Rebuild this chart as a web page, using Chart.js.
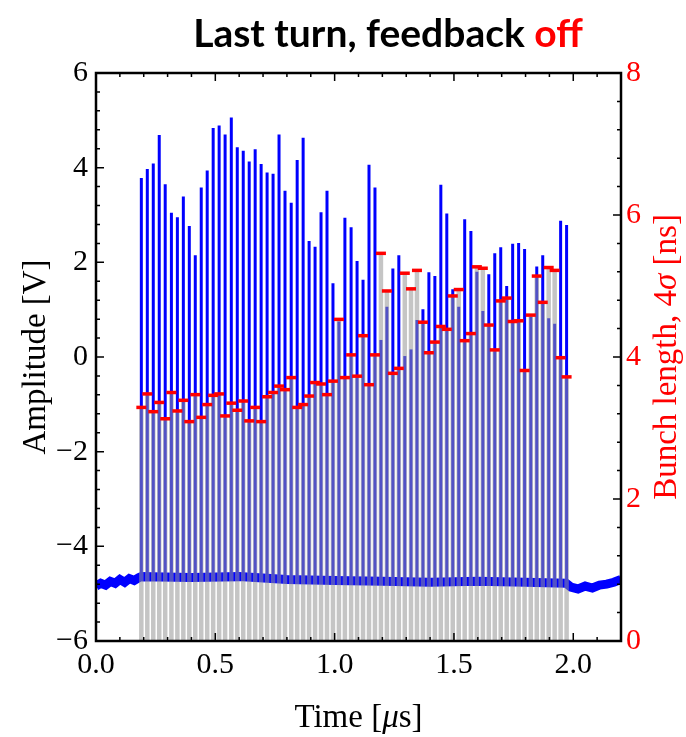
<!DOCTYPE html>
<html>
<head>
<meta charset="utf-8">
<script src="https://cdn.jsdelivr.net/npm/chart.js@4.4.1/dist/chart.umd.min.js"></script>
<style>
  html, body { margin: 0; padding: 0; background: #ffffff; }
  #wrap { width: 686px; height: 737px; }
</style>
</head>
<body>
<div id="wrap"><canvas id="bunchChart" width="686" height="737"></canvas></div>
<script>
// Bunch arrival times [us]
const bunchTimes = [0.190, 0.215, 0.240, 0.265, 0.290, 0.316, 0.341, 0.366, 0.391, 0.416,
    0.441, 0.466, 0.491, 0.516, 0.541, 0.567, 0.592, 0.617, 0.642, 0.667,
    0.692, 0.717, 0.742, 0.767, 0.792, 0.818, 0.843, 0.868, 0.893, 0.918,
    0.943, 0.968, 0.993, 1.018, 1.043, 1.069, 1.094, 1.119, 1.144, 1.169,
    1.194, 1.219, 1.244, 1.269, 1.294, 1.320, 1.345, 1.370, 1.395, 1.420,
    1.445, 1.470, 1.495, 1.520, 1.545, 1.571, 1.596, 1.621, 1.646, 1.671,
    1.696, 1.721, 1.746, 1.771, 1.796, 1.822, 1.847, 1.872, 1.897, 1.922,
    1.947, 1.972];

// Peak amplitude of each bunch [V]
const peakAmplitude = [3.78, 3.97, 4.09, 4.69, 3.65, 3.05, 2.95, 3.39, 2.77, 2.15,
    3.58, 3.94, 4.84, 4.89, 4.70, 5.06, 4.43, 4.36, 4.13, 4.39,
    4.08, 3.90, 3.87, 4.70, 3.51, 3.26, 4.16, 4.63, 2.45, 2.33,
    3.06, 3.51, 1.56, 0.75, 2.94, 2.74, 2.03, 1.63, 4.06, 3.58,
    0.36, 1.06, 1.87, 2.15, 0.02, 0.16, 0.78, 1.01, 1.79, 1.71,
    3.64, 3.03, 1.43, 1.06, 2.91, 2.66, 1.80, 0.97, 1.75, 2.19,
    2.32, 1.50, 2.39, 2.41, 2.28, 0.85, 1.91, 2.15, 0.82, 0.70,
    2.88, 2.79];

// Bunch length, 4 sigma [ns]
const bunchLength = [3.29, 3.48, 3.23, 3.36, 3.13, 3.50, 3.24, 3.39, 3.09, 3.47,
    3.15, 3.33, 3.46, 3.48, 3.17, 3.35, 3.25, 3.38, 3.10, 3.29,
    3.09, 3.44, 3.50, 3.59, 3.54, 3.71, 3.29, 3.33, 3.45, 3.64,
    3.62, 3.47, 3.66, 4.53, 3.71, 4.03, 3.73, 4.30, 3.61, 4.03,
    5.46, 4.93, 3.77, 3.84, 5.18, 4.96, 5.22, 4.49, 4.06, 4.21,
    4.43, 4.39, 4.86, 4.95, 4.23, 4.33, 5.27, 5.25, 4.45, 4.10,
    4.79, 4.83, 4.50, 4.51, 3.81, 4.59, 5.14, 4.77, 5.26, 5.22,
    3.99, 3.72];

// Scope baseline (noise level) read at a few times
const baselineTimes = [0.00, 0.02, 0.04, 0.06, 0.08, 0.10, 0.12, 0.14, 0.16, 0.18,
    0.19, 0.40, 0.60, 0.80, 1.00, 1.20, 1.40, 1.60, 1.80, 1.97,
    1.99, 2.02, 2.05, 2.08, 2.11, 2.14, 2.17, 2.20];
const baselineLevel = [-4.84, -4.78, -4.82, -4.74, -4.78, -4.70, -4.76, -4.68, -4.72, -4.66,
    -4.64, -4.66, -4.64, -4.70, -4.72, -4.74, -4.76, -4.74, -4.76, -4.78,
    -4.86, -4.90, -4.84, -4.88, -4.82, -4.80, -4.76, -4.70];
const spikeFoot = -4.7;

// Tick labels
const timeTicks = [0.0, 0.5, 1.0, 1.5, 2.0];
const ampTicks = [-6, -4, -2, 0, 2, 4, 6];
const lengthTicks = [0, 2, 4, 6, 8];

const serif = "'Liberation Serif', 'DejaVu Serif', serif";

function fmtSigned(v) {
    return v < 0 ? '\u2212' + Math.abs(v) : String(v);
}

// Draw a line of text made of differently styled pieces, centred at (cx, cy)
function drawRuns(ctx, runs, cx, cy, rot, baseline) {
    ctx.save();
    ctx.translate(cx, cy);
    ctx.rotate(rot);
    ctx.textAlign = 'left';
    ctx.textBaseline = baseline;
    let total = 0;
    runs.forEach(r => {
        ctx.font = r.font;
        r.w = ctx.measureText(r.text).width;
        total += r.w;
    });
    let x = -total / 2;
    runs.forEach(r => {
        ctx.font = r.font;
        ctx.fillStyle = r.color;
        ctx.fillText(r.text, x, 0);
        x += r.w;
    });
    ctx.restore();
}

// Mathematica-like frame with inward ticks, plus titles
const framePlugin = {
    id: 'frame',
    afterDraw(chart) {
        const ctx = chart.ctx;
        const a = chart.chartArea;
        const xs = chart.scales.x, ys = chart.scales.y, ys2 = chart.scales.y2;
        ctx.save();
        ctx.strokeStyle = '#000';
        ctx.lineWidth = 1.5;
        ctx.beginPath();
        // x ticks, bottom and top
        for (let i = 0; i <= 22; i++) {
            const v = i / 10;
            const len = (i % 5 === 0) ? 8 : 4;
            const px = xs.getPixelForValue(v);
            ctx.moveTo(px, a.bottom); ctx.lineTo(px, a.bottom - len);
            ctx.moveTo(px, a.top); ctx.lineTo(px, a.top + len);
        }
        // left ticks
        for (let i = 0; i <= 30; i++) {
            const v = -6 + i * 0.4;
            const len = (i % 5 === 0) ? 8 : 4;
            const py = ys.getPixelForValue(v);
            ctx.moveTo(a.left, py); ctx.lineTo(a.left + len, py);
        }
        // right ticks
        for (let i = 0; i <= 20; i++) {
            const v = i * 0.4;
            const len = (i % 5 === 0) ? 8 : 4;
            const py = ys2.getPixelForValue(v);
            ctx.moveTo(a.right, py); ctx.lineTo(a.right - len, py);
        }
        ctx.stroke();
        ctx.lineWidth = 2.5;
        ctx.strokeRect(a.left, a.top, a.right - a.left, a.bottom - a.top);
        ctx.restore();

        // titles
        drawRuns(ctx, [
            { text: 'Last turn, feedback ', font: "bold 39px Lato, 'Open Sans', sans-serif", color: '#000' },
            { text: 'off', font: "bold 39px Lato, 'Open Sans', sans-serif", color: '#ff0000' }
        ], 388, 47, 0, 'alphabetic');
        drawRuns(ctx, [
            { text: 'Amplitude [V]', font: '33px ' + serif, color: '#000' }
        ], 36, (a.top + a.bottom) / 2, -Math.PI / 2, 'middle');
        drawRuns(ctx, [
            { text: 'Time [', font: '33px ' + serif, color: '#000' },
            { text: '\u03bc', font: 'italic 33px ' + serif, color: '#000' },
            { text: 's]', font: '33px ' + serif, color: '#000' }
        ], (a.left + a.right) / 2, 727, 0, 'alphabetic');
        drawRuns(ctx, [
            { text: 'Bunch length, 4', font: '33px ' + serif, color: '#ff0000' },
            { text: '\u03c3', font: 'italic 33px ' + serif, color: '#ff0000' },
            { text: ' [ns]', font: '33px ' + serif, color: '#ff0000' }
        ], 667, (a.top + a.bottom) / 2, -Math.PI / 2, 'middle');
    }
};

const spikeData = bunchTimes.map((t, i) => ({ x: t, y: [spikeFoot, peakAmplitude[i]] }));
const lengthData = bunchTimes.map((t, i) => ({ x: t, y: bunchLength[i] }));
const baselineData = baselineTimes.map((t, i) => ({ x: t, y: baselineLevel[i] }));

const ctx = document.getElementById('bunchChart').getContext('2d');
const myBunchChart = new Chart(ctx, {
    type: 'bar',
    data: {
        datasets: [
            {
                type: 'scatter',
                label: 'Bunch length marker',
                data: lengthData,
                yAxisID: 'y2',
                pointStyle: 'line',
                pointRadius: 5,
                pointBorderWidth: 3.5,
                pointBorderColor: '#ff0000',
                pointBackgroundColor: '#ff0000',
                order: 0
            },
            {
                type: 'bar',
                label: 'Bunch length',
                data: lengthData,
                yAxisID: 'y2',
                backgroundColor: 'rgba(150, 150, 150, 0.55)',
                barThickness: 4.5,
                inflateAmount: 0,
                grouped: false,
                order: 1
            },
            {
                type: 'bar',
                label: 'Amplitude',
                data: spikeData,
                yAxisID: 'y',
                backgroundColor: '#0000ff',
                barThickness: 3,
                inflateAmount: 0,
                grouped: false,
                order: 2
            },
            {
                type: 'line',
                label: 'Baseline',
                data: baselineData,
                yAxisID: 'y',
                borderColor: '#0000ff',
                borderWidth: 9,
                pointRadius: 0,
                tension: 0,
                fill: false,
                order: 3
            }
        ]
    },
    options: {
        responsive: false,
        animation: false,
        layout: { padding: { top: 73, left: 0, right: 0, bottom: 0 } },
        plugins: {
            legend: { display: false },
            tooltip: { enabled: false },
            title: { display: false }
        },
        scales: {
            x: {
                type: 'linear',
                min: 0,
                max: 2.2,
                offset: false,
                grid: { display: false, drawTicks: false },
                border: { display: false },
                afterBuildTicks: s => { s.ticks = timeTicks.map(v => ({ value: v })); },
                afterFit: s => { s.height = 96; },
                ticks: {
                    autoSkip: false,
                    maxRotation: 0,
                    padding: 6,
                    color: '#000',
                    font: { family: serif, size: 30 },
                    callback: v => Number(v).toFixed(1)
                }
            },
            y: {
                type: 'linear',
                position: 'left',
                min: -6,
                max: 6,
                grid: { display: false, drawTicks: false },
                border: { display: false },
                afterBuildTicks: s => { s.ticks = ampTicks.map(v => ({ value: v })); },
                afterFit: s => { s.width = 96; },
                ticks: {
                    autoSkip: false,
                    padding: 8,
                    color: '#000',
                    font: { family: serif, size: 30 },
                    callback: v => fmtSigned(v)
                }
            },
            y2: {
                type: 'linear',
                position: 'right',
                min: 0,
                max: 8,
                grid: { display: false, drawTicks: false },
                border: { display: false },
                afterBuildTicks: s => { s.ticks = lengthTicks.map(v => ({ value: v })); },
                afterFit: s => { s.width = 65; },
                ticks: {
                    autoSkip: false,
                    padding: 5,
                    color: '#ff0000',
                    font: { family: serif, size: 30 },
                    callback: v => String(v)
                }
            }
        }
    },
    plugins: [framePlugin]
});
</script>
</body>
</html>
